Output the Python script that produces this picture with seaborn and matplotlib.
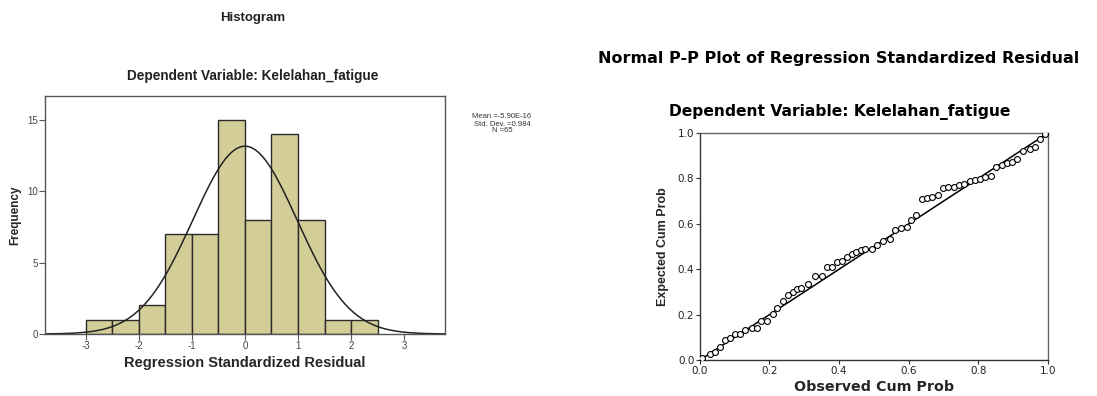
import numpy as np
import pandas as pd
import matplotlib
matplotlib.use("Agg")
import matplotlib.pyplot as plt
import seaborn as sns

# histogram bins of the standardized residuals (width 0.5)
bin_edges = [-3.0, -2.5, -2.0, -1.5, -1.0, -0.5, 0.0, 0.5, 1.0, 1.5, 2.0, 2.5]
bin_counts = [1, 1, 2, 7, 7, 15, 8, 14, 8, 1, 1]
res_mean = -5.90e-16
res_sd = 0.984
n_cases = 65

# P-P plot points
observed_cum = [0.005, 0.029, 0.043, 0.058, 0.072, 0.086, 0.101, 0.115, 0.129, 0.149,
                0.163, 0.177, 0.192, 0.209, 0.222, 0.240, 0.254, 0.267, 0.278, 0.292,
                0.312, 0.331, 0.350, 0.364, 0.379, 0.393, 0.407, 0.424, 0.436, 0.449,
                0.462, 0.475, 0.494, 0.510, 0.527, 0.547, 0.561, 0.577, 0.594, 0.606,
                0.621, 0.638, 0.652, 0.666, 0.683, 0.698, 0.714, 0.729, 0.745, 0.759,
                0.777, 0.791, 0.805, 0.820, 0.836, 0.850, 0.868, 0.882, 0.897, 0.911,
                0.930, 0.950, 0.964, 0.978, 0.993]
expected_cum = [0.007, 0.025, 0.037, 0.059, 0.088, 0.095, 0.113, 0.116, 0.132, 0.139,
                0.139, 0.173, 0.174, 0.204, 0.227, 0.260, 0.286, 0.300, 0.315, 0.318,
                0.337, 0.369, 0.372, 0.411, 0.409, 0.432, 0.435, 0.452, 0.469, 0.474,
                0.484, 0.488, 0.487, 0.509, 0.525, 0.532, 0.572, 0.580, 0.588, 0.616,
                0.641, 0.711, 0.714, 0.718, 0.729, 0.758, 0.761, 0.761, 0.770, 0.776,
                0.787, 0.792, 0.799, 0.808, 0.809, 0.850, 0.860, 0.868, 0.872, 0.887,
                0.919, 0.931, 0.937, 0.975, 0.997]

sns.set_style("white")
plt.rcParams['font.family'] = ['Liberation Sans', 'DejaVu Sans']
plt.rcParams['axes.unicode_minus'] = False

fig = plt.figure(figsize=(10.97, 3.96), dpi=100)

# ---- histogram ----
ax1 = fig.add_axes([0.041, 0.1566, 0.3646, 0.601])
centers = [(bin_edges[i] + bin_edges[i + 1]) / 2 for i in range(len(bin_counts))]
hist_df = pd.DataFrame({'resid': centers, 'count': bin_counts})
sns.histplot(data=hist_df, x='resid', weights='count', bins=bin_edges,
             color='#d3cd97', edgecolor='#2b2b2b', linewidth=1.0, alpha=1, ax=ax1)

# fitted normal curve
xs = np.linspace(-3.8, 3.8, 300)
ys = n_cases * 0.5 * np.exp(-0.5 * ((xs - res_mean) / res_sd) ** 2) / (res_sd * np.sqrt(2 * np.pi))
sns.lineplot(x=xs, y=ys, color='#222222', linewidth=1.1, ax=ax1)

ax1.set_xlim(-3.77, 3.77)
ax1.set_ylim(0, 16.7)
ax1.set_xticks([-3, -2, -1, 0, 1, 2, 3])
ax1.set_yticks([0, 5, 10, 15])
ax1.tick_params(axis='both', direction='out', length=4, width=0.8, color='#555555',
                labelsize=7, labelcolor='#444444', pad=1, bottom=True, left=True)
for sp in ax1.spines.values():
    sp.set_color('#555555')
    sp.set_linewidth(1.0)
ax1.set_xlabel('Regression Standardized Residual', fontsize=10.5, fontweight='bold', labelpad=4)
ax1.set_ylabel('Frequency', fontsize=8.5, fontweight='bold', labelpad=4)

fig.text(253 / 1097, 1 - 18 / 396, 'Histogram', ha='center', va='center',
         fontsize=9.5, fontweight='bold', color='#222222')
fig.text(253 / 1097, 1 - 76 / 396, 'Dependent Variable: Kelelahan_fatigue', ha='center',
         va='center', fontsize=9.8, fontweight='bold', color='#222222')
fig.text(502 / 1097, 1 - 124 / 396, 'Mean =-5.90E-16\nStd. Dev. =0.984\nN =65',
         ha='center', va='center', fontsize=5.5, color='#333333', linespacing=1.0)

# ---- normal P-P plot ----
ax2 = fig.add_axes([0.638, 0.0909, 0.3172, 0.573])
pp_df = pd.DataFrame({'obs': observed_cum, 'exp': expected_cum})
sns.lineplot(x=[0, 1], y=[0, 1], color='black', linewidth=1.1, ax=ax2)
sns.scatterplot(data=pp_df, x='obs', y='exp', marker='o', s=18, facecolor='white',
                edgecolor='black', linewidth=0.8, ax=ax2, zorder=3)
ax2.set_xlim(0, 1)
ax2.set_ylim(0, 1)
ax2.set_xticks([0, 0.2, 0.4, 0.6, 0.8, 1.0])
ax2.set_yticks([0, 0.2, 0.4, 0.6, 0.8, 1.0])
ax2.set_xticklabels(['0.0', '0.2', '0.4', '0.6', '0.8', '1.0'])
ax2.set_yticklabels(['0.0', '0.2', '0.4', '0.6', '0.8', '1.0'])
ax2.tick_params(axis='both', direction='out', length=3, width=0.8, color='#333333',
                labelsize=7.5, labelcolor='#222222', pad=1, bottom=True, left=True)
for lab in ax2.get_xticklabels() + ax2.get_yticklabels():
    lab.set_family('DejaVu Sans')
for name, sp in ax2.spines.items():
    sp.set_linewidth(1.0)
    sp.set_color('#333333' if name in ('left', 'bottom') else '#666666')
ax2.set_xlabel('Observed Cum Prob', fontsize=10.3, fontweight='bold', labelpad=3,
               family='DejaVu Sans')
ax2.set_ylabel('Expected Cum Prob', fontsize=9, fontweight='bold', labelpad=6)

fig.text(598 / 1097, 1 - 58 / 396, 'Normal P-P Plot of Regression Standardized Residual',
         ha='left', va='center', fontsize=11.5, fontweight='bold', color='black',
         family='DejaVu Sans')
fig.text(840 / 1097, 1 - 112 / 396, 'Dependent Variable: Kelelahan_fatigue',
         ha='center', va='center', fontsize=11.2, fontweight='bold', color='black',
         family='DejaVu Sans')

fig.savefig('out.png', dpi=100)
